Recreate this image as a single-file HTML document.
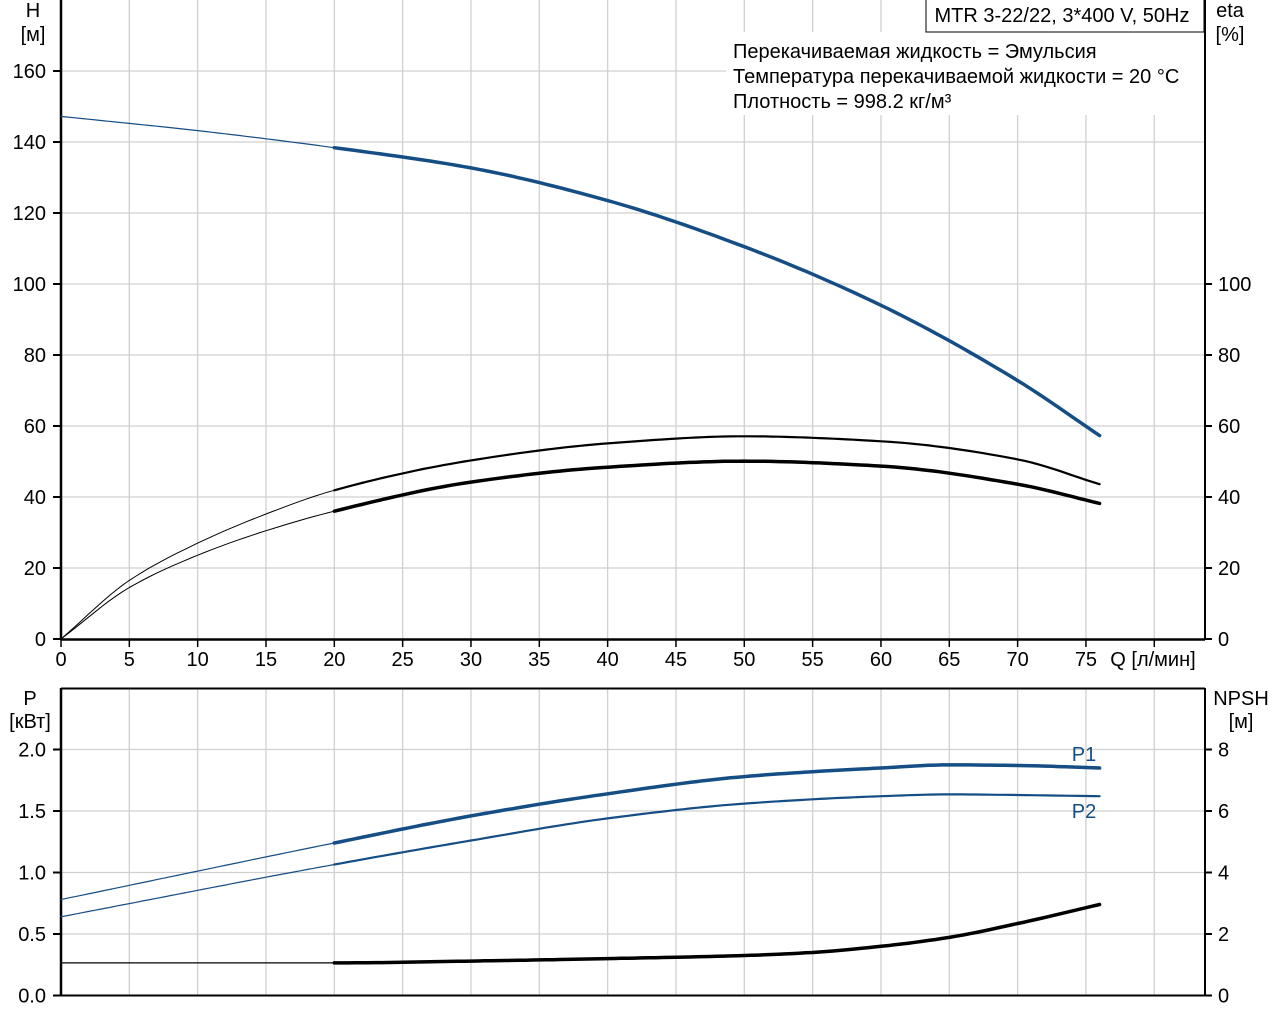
<!DOCTYPE html>
<html><head><meta charset="utf-8">
<style>
html,body{margin:0;padding:0;background:#fff;}
svg{display:block;font-family:"Liberation Sans",Arial,sans-serif;}
</style></head>
<body>
<svg id="chart" width="1280" height="1024" viewBox="0 0 1280 1024" xmlns="http://www.w3.org/2000/svg"></svg>
<script>
// ----- data -----
const qTicks = [0,5,10,15,20,25,30,35,40,45,50,55,60,65,70,75];
const hTicks = [0,20,40,60,80,100,120,140,160];
const etaTicks = [0,20,40,60,80,100];
const pTicks = [0.0,0.5,1.0,1.5,2.0];
const pTickLabels = ["0.0","0.5","1.0","1.5","2.0"];
const npshTicks = [0,2,4,6,8];

const hQ = [0,10,20,30,40,50,60,70,76];
const hVals = [147.2,143.2,138.4,132.7,123.5,110.5,94,72.8,57.3];

const etaQ = [0,5,10,15,20,30,40,50,60,70,76];
const etaTotal = [0,16.5,27,35.2,41.9,50.3,55.1,57.1,55.7,50.6,43.6];
const etaPump = [0,14.5,23.6,30.5,36,44.2,48.4,50.1,48.7,43.6,38.2];

const pQ = [0,20,30,40,50,60,65,70,76];
const p1Vals = [0.78,1.24,1.46,1.64,1.78,1.85,1.875,1.87,1.85];
const p2Vals = [0.64,1.065,1.26,1.44,1.56,1.62,1.635,1.63,1.62];

const npshQ = [0,20,30,40,50,55,60,65,70,76];
const npshVals = [1.06,1.06,1.12,1.2,1.3,1.4,1.6,1.89,2.34,2.96];

// ----- axes -----
const X0=61, XPER=68.33/5;
const xs = q => X0 + q*XPER;
const yH = h => 639 - h*3.55;
const yEta = e => 639 - e*3.55;
const yP = p => 995.5 - p*123;
const yN = n => 995.5 - n*30.75;

const svg = document.getElementById('chart');
const NS='http://www.w3.org/2000/svg';
const FS=20;
function mk(tag, attrs, parent){
  const e=document.createElementNS(NS,tag);
  for(const k in attrs) e.setAttribute(k,attrs[k]);
  (parent||svg).appendChild(e); return e;
}
function txt(x,y,s,anchor,name,color){
  const t=mk('text',{x:x,y:y,'font-size':FS,'text-anchor':anchor||'middle',fill:color||'#000'});
  t.textContent=s;
  
  
  return t;
}
// monotone cubic (Fritsch-Carlson)
function spline(xa, ya){
  const n=xa.length, d=[], m=[];
  for(let i=0;i<n-1;i++) d[i]=(ya[i+1]-ya[i])/(xa[i+1]-xa[i]);
  m[0]=d[0]; m[n-1]=d[n-2];
  for(let i=1;i<n-1;i++){
    if(d[i-1]*d[i]<=0) m[i]=0;
    else { const w1=2*(xa[i+1]-xa[i])+(xa[i]-xa[i-1]), w2=(xa[i+1]-xa[i])+2*(xa[i]-xa[i-1]);
      m[i]=(w1+w2)/(w1/d[i-1]+w2/d[i]); }
  }
  return x=>{let i=0;while(i<n-2&&x>xa[i+1])i++;
    const h=xa[i+1]-xa[i], t=(x-xa[i])/h, t2=t*t, t3=t2*t;
    return (2*t3-3*t2+1)*ya[i]+(t3-2*t2+t)*h*m[i]+(-2*t3+3*t2)*ya[i+1]+(t3-t2)*h*m[i+1];};
}
function curve(xa,ya,yf,from,to,color,w,name){
  const f=spline(xa,ya); let pts=[];
  for(let q=from;q<=to+1e-9;q+=0.5) pts.push(xs(q).toFixed(1)+','+yf(f(q)).toFixed(1));
  const p=mk('polyline',{points:pts.join(' '),fill:'none',stroke:color,'stroke-width':w,'stroke-linecap':'round','stroke-linejoin':'round'});
  
  
}
const GRID='#d0d0d0', BLUE='#154d85';

// ---- top plot grid ----
for(let q=5;q<=80;q+=5){
  mk('line',{x1:xs(q),x2:xs(q),y1:0,y2:639,stroke:GRID,'stroke-width':1.3});
}
for(const h of hTicks){ if(h===0)continue;
  mk('line',{x1:X0,x2:1205,y1:yH(h),y2:yH(h),stroke:GRID,'stroke-width':1.3});
}
mk('rect',{x:726,y:32,width:478,height:83,fill:'#fff'});
txt(733,58,'Перекачиваемая жидкость = Эмульсия','start','info-liquid');
txt(733,83,'Температура перекачиваемой жидкости = 20 °C','start','info-temperature');
txt(733,108,'Плотность = 998.2 кг/м³','start','info-density');
mk('rect',{x:926,y:-1,width:278,height:33,fill:'#fff',stroke:'#000','stroke-width':1});
txt(1062,22,'MTR 3-22/22, 3*400 V, 50Hz','middle','chart-title');

mk('line',{x1:X0,x2:X0,y1:0,y2:640,stroke:'#000','stroke-width':2.5});
mk('line',{x1:1205,x2:1205,y1:0,y2:640,stroke:'#000','stroke-width':2});
mk('line',{x1:X0,x2:1205,y1:639.5,y2:639.5,stroke:'#000','stroke-width':2.5});
for(const h of hTicks){
  mk('line',{x1:53,x2:X0,y1:yH(h),y2:yH(h),stroke:'#000','stroke-width':2});
  txt(46,yH(h)+7,String(h),'end','h-tick-label');
}
for(const e of etaTicks){
  mk('line',{x1:1205,x2:1212,y1:yEta(e),y2:yEta(e),stroke:'#000','stroke-width':2});
  txt(1218,yEta(e)+7,String(e),'start','eta-tick-label');
}
for(const q of qTicks){
  mk('line',{x1:xs(q),x2:xs(q),y1:640,y2:647,stroke:'#000','stroke-width':1.5});
  txt(xs(q),666,String(q),'middle','q-tick-label');
}
mk('line',{x1:xs(80),x2:xs(80),y1:640,y2:647,stroke:'#000','stroke-width':1.5});
txt(1153,666,'Q [л/мин]','middle','q-axis-title');
txt(33,17,'H','middle','h-axis-title');
txt(33,41,'[м]','middle','h-axis-unit');
txt(1230,17,'eta','middle','eta-axis-title');
txt(1230,41,'[%]','middle','eta-axis-unit');

curve(hQ,hVals,yH,0,20,BLUE,1.2,'head-curve-extended');
curve(hQ,hVals,yH,20,76,BLUE,3.5,'head-curve');
curve(etaQ,etaTotal,yEta,0,20,'#000',1,'eta-total-curve-extended');
curve(etaQ,etaTotal,yEta,20,76,'#000',2.2,'eta-total-curve');
curve(etaQ,etaPump,yEta,0,20,'#000',1,'eta-pump-curve-extended');
curve(etaQ,etaPump,yEta,20,76,'#000',3.5,'eta-pump-curve');

// ---- bottom plot ----
for(let q=5;q<=80;q+=5){
  mk('line',{x1:xs(q),x2:xs(q),y1:688,y2:995,stroke:GRID,'stroke-width':1.3});
}
for(const p of pTicks){ if(p===0)continue;
  mk('line',{x1:X0,x2:1205,y1:yP(p),y2:yP(p),stroke:GRID,'stroke-width':1.3});
}
mk('line',{x1:X0,x2:1205,y1:688.5,y2:688.5,stroke:'#000','stroke-width':2});
mk('line',{x1:X0,x2:X0,y1:688,y2:996,stroke:'#000','stroke-width':2.5});
mk('line',{x1:1205,x2:1205,y1:688,y2:996,stroke:'#000','stroke-width':2});
mk('line',{x1:X0,x2:1205,y1:995.5,y2:995.5,stroke:'#000','stroke-width':2});
pTicks.forEach((p,i)=>{
  mk('line',{x1:53,x2:X0,y1:yP(p),y2:yP(p),stroke:'#000','stroke-width':2});
  txt(46,yP(p)+7,pTickLabels[i],'end','p-tick-label');
});
for(const n of npshTicks){
  mk('line',{x1:1205,x2:1212,y1:yN(n),y2:yN(n),stroke:'#000','stroke-width':2});
  txt(1218,yN(n)+7,String(n),'start','npsh-tick-label');
}
txt(30,705,'P','middle','p-axis-title');
txt(30,728,'[кВт]','middle','p-axis-unit');
txt(1241,705,'NPSH','middle','npsh-axis-title');
txt(1241,728,'[м]','middle','npsh-axis-unit');

curve(pQ,p1Vals,yP,0,20,BLUE,1.2,'p1-curve-extended');
curve(pQ,p1Vals,yP,20,76,BLUE,3.5,'p1-curve');
curve(pQ,p2Vals,yP,0,20,BLUE,1.2,'p2-curve-extended');
curve(pQ,p2Vals,yP,20,76,BLUE,2.2,'p2-curve');
curve(npshQ,npshVals,yN,0,20,'#000',1.2,'npsh-curve-extended');
curve(npshQ,npshVals,yN,20,76,'#000',3.5,'npsh-curve');
txt(1084,761,'P1','middle','p1-label',BLUE);
txt(1084,818,'P2','middle','p2-label',BLUE);
</script>
</body></html>
